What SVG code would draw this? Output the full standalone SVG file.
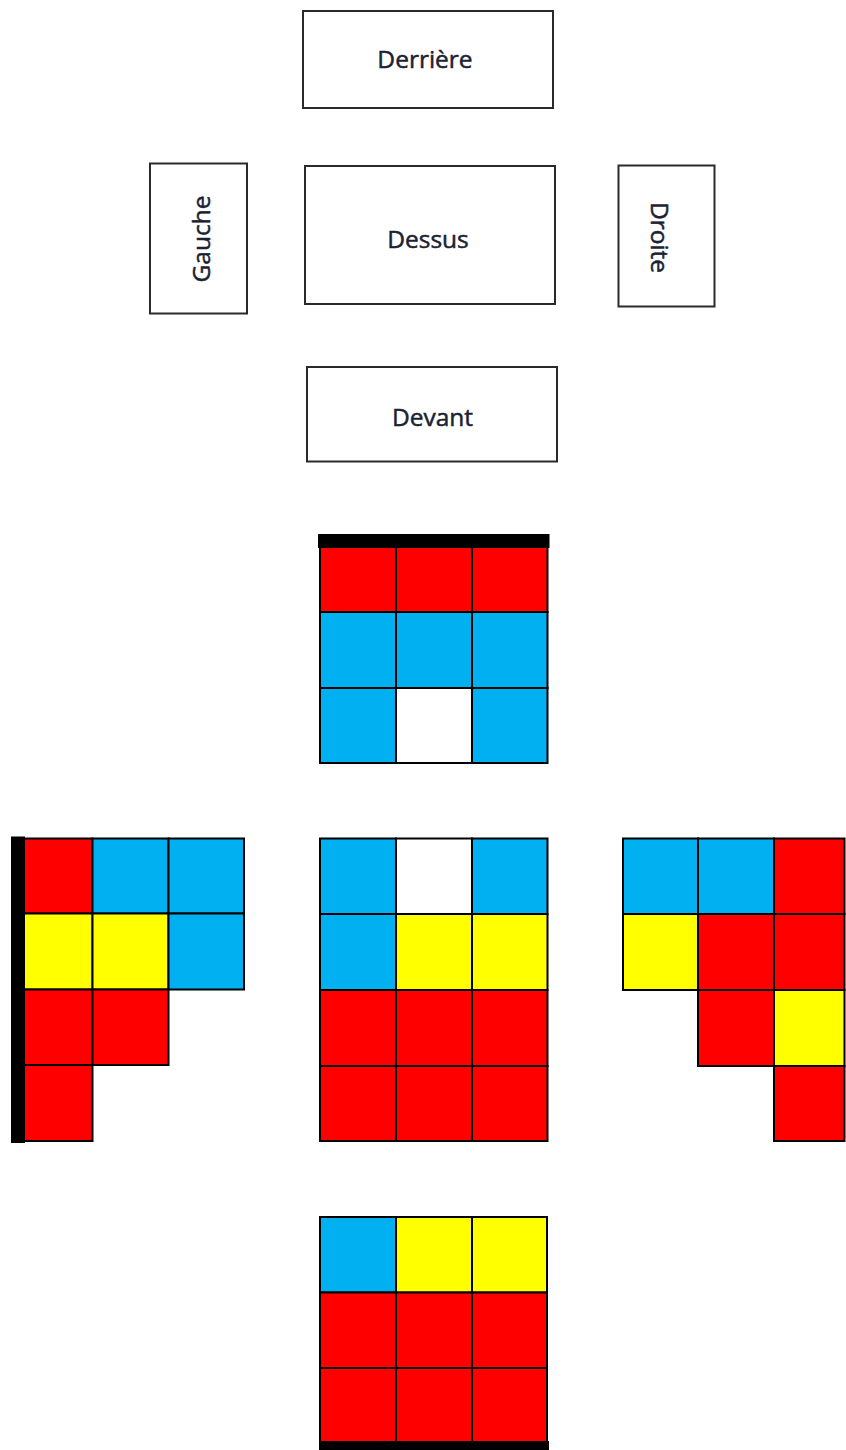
<svg xmlns="http://www.w3.org/2000/svg" width="846" height="1450" viewBox="0 0 846 1450">
<style>
.box{fill:#fff;stroke:#2a2a2a;stroke-width:2}
.lbl{font-family:"Open Sans","DejaVu Sans",sans-serif;font-size:24.5px;fill:#1b2233;stroke:#1b2233;stroke-width:0.5;text-anchor:middle}
.c rect{stroke:#000;stroke-width:2}
.r{fill:#ff0000}.b{fill:#00b0f0}.y{fill:#ffff00}.w{fill:#fff}
.bar{fill:#000;stroke:none}
</style>
<rect width="846" height="1450" fill="#fff"/>
<g id="derriere"><rect class="box" x="303" y="11" width="250" height="97"/><text class="lbl" x="425" y="68">Derrière</text></g>
<g id="gauche"><rect class="box" x="150" y="163.5" width="97" height="150"/><text class="lbl" transform="translate(210,239) rotate(-90)">Gauche</text></g>
<g id="dessus"><rect class="box" x="305" y="166" width="250" height="138"/><text class="lbl" x="428" y="248">Dessus</text></g>
<g id="droite"><rect class="box" x="618.5" y="165.5" width="96" height="141"/><text class="lbl" transform="translate(651,237.5) rotate(90)">Droite</text></g>
<g id="devant"><rect class="box" x="307" y="367" width="250" height="94.5"/><text class="lbl" x="432.5" y="426">Devant</text></g>

<g id="grid-top" class="c">
<rect class="r" x="320" y="536" width="76" height="76"/><rect class="r" x="396" y="536" width="76" height="76"/><rect class="r" x="472" y="536" width="75.5" height="76"/>
<rect class="b" x="320" y="612" width="76" height="76"/><rect class="b" x="396" y="612" width="76" height="76"/><rect class="b" x="472" y="612" width="75.5" height="76"/>
<rect class="b" x="320" y="688" width="76" height="75"/><rect class="w" x="396" y="688" width="76" height="75"/><rect class="b" x="472" y="688" width="75.5" height="75"/>
<rect class="bar" x="319" y="535" width="229.5" height="12"/>
</g>

<g id="grid-left" class="c">
<rect class="r" x="16" y="838.5" width="76.5" height="75"/><rect class="b" x="92.5" y="838.5" width="76" height="75"/><rect class="b" x="168.5" y="838.5" width="75.5" height="75"/>
<rect class="y" x="16" y="913.5" width="76.5" height="76"/><rect class="y" x="92.5" y="913.5" width="76" height="76"/><rect class="b" x="168.5" y="913.5" width="75.5" height="76"/>
<rect class="r" x="16" y="989.5" width="76.5" height="75.5"/><rect class="r" x="92.5" y="989.5" width="76" height="75.5"/>
<rect class="r" x="16" y="1065" width="76.5" height="76"/>
<rect class="bar" x="12" y="837.5" width="12" height="304.5"/>
</g>

<g id="grid-center" class="c">
<rect class="b" x="320" y="838.5" width="76" height="75.5"/><rect class="w" x="396" y="838.5" width="76" height="75.5"/><rect class="b" x="472" y="838.5" width="75.5" height="75.5"/>
<rect class="b" x="320" y="914" width="76" height="76"/><rect class="y" x="396" y="914" width="76" height="76"/><rect class="y" x="472" y="914" width="75.5" height="76"/>
<rect class="r" x="320" y="990" width="76" height="76"/><rect class="r" x="396" y="990" width="76" height="76"/><rect class="r" x="472" y="990" width="75.5" height="76"/>
<rect class="r" x="320" y="1066" width="76" height="75"/><rect class="r" x="396" y="1066" width="76" height="75"/><rect class="r" x="472" y="1066" width="75.5" height="75"/>
</g>

<g id="grid-right" class="c">
<rect class="b" x="623" y="838.5" width="75" height="75.5"/><rect class="b" x="698" y="838.5" width="76" height="75.5"/><rect class="r" x="774" y="838.5" width="70.5" height="75.5"/>
<rect class="y" x="623" y="914" width="75" height="76"/><rect class="r" x="698" y="914" width="76" height="76"/><rect class="r" x="774" y="914" width="70.5" height="76"/>
<rect class="r" x="698" y="990" width="76" height="76"/><rect class="y" x="774" y="990" width="70.5" height="76"/>
<rect class="r" x="774" y="1066" width="70.5" height="75"/>
</g>

<g id="grid-bottom" class="c">
<rect class="b" x="320" y="1217" width="76" height="75.5"/><rect class="y" x="396" y="1217" width="76" height="75.5"/><rect class="y" x="472" y="1217" width="75" height="75.5"/>
<rect class="r" x="320" y="1292.5" width="76" height="75.5"/><rect class="r" x="396" y="1292.5" width="76" height="75.5"/><rect class="r" x="472" y="1292.5" width="75" height="75.5"/>
<rect class="r" x="320" y="1368" width="76" height="75"/><rect class="r" x="396" y="1368" width="76" height="75"/><rect class="r" x="472" y="1368" width="75" height="75"/>
<rect class="bar" x="320" y="1442" width="228" height="8"/>
</g>
</svg>
